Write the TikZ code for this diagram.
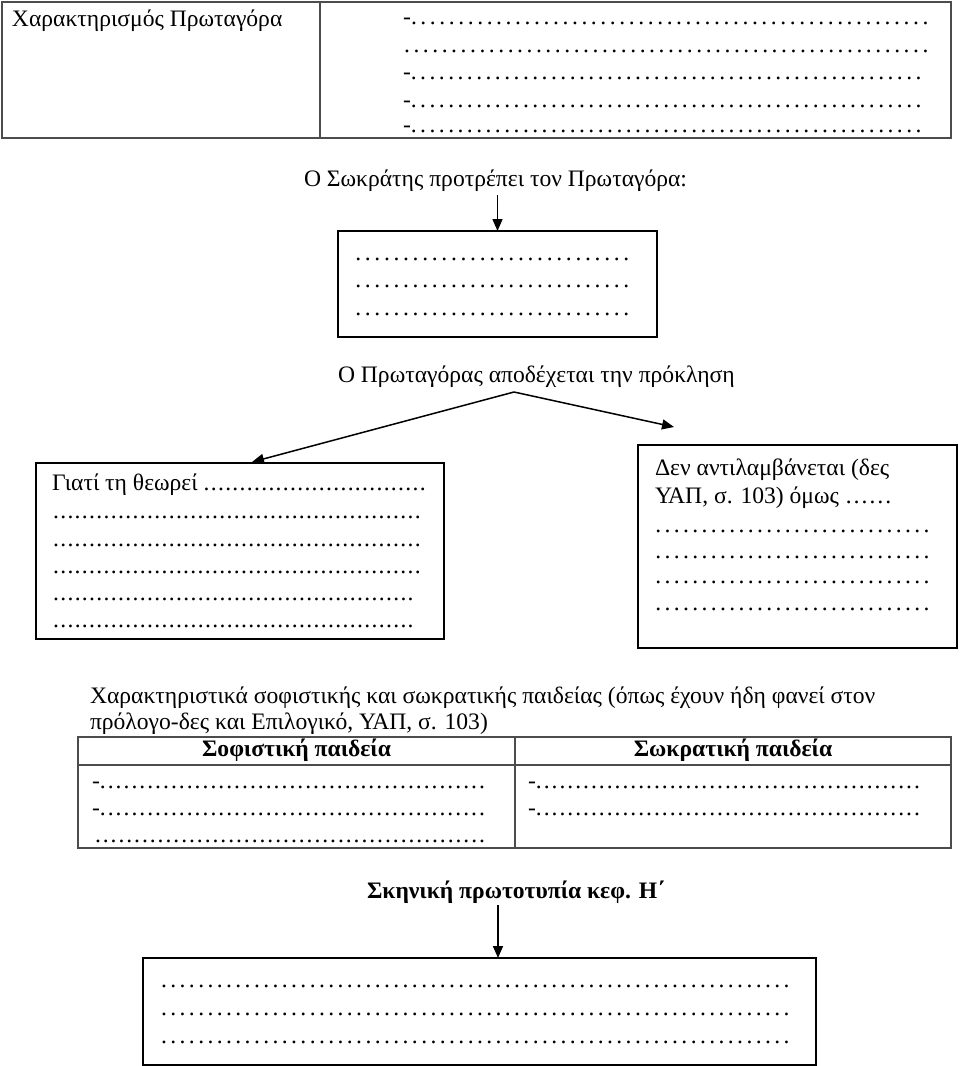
\documentclass[tikz,border=0pt]{standalone}
\usepackage{fontspec}
\setmainfont{Liberation Serif}
\usetikzlibrary{arrows.meta}
\newcommand\dotline[3]{\hbox to #1{#3\xleaders\hbox to #2{.\hss}\hfill}}
\tikzset{
  txt/.style={anchor=base west, inner sep=0pt, outer sep=0pt, font=\fontsize{23.6}{28}\selectfont},
  hdr/.style={anchor=base, inner sep=0pt, outer sep=0pt, font=\fontsize{23.6}{28}\selectfont\bfseries},
  hdrw/.style={anchor=base west, inner sep=0pt, outer sep=0pt, font=\fontsize{23.6}{28}\selectfont\bfseries},
  boxk/.style={draw=black, line width=1.8pt, inner sep=0pt, outer sep=0pt, anchor=north west},
  tab/.style={draw=black!70, line width=1.3pt},
  tabbox/.style={tab, inner sep=0pt, outer sep=0pt, anchor=north west},
  arr/.style={line width=1.5pt, -{Triangle[length=12pt,width=10pt]}},
}
\begin{document}
\begin{tikzpicture}[x=1pt,y=-1pt]
\useasboundingbox (0,0) rectangle (960,1066);

% top table
\node[tabbox, minimum width=949pt, minimum height=136pt] (ttab) at (2,2) {};
\coordinate (d1) at (320,2);
\draw[tab] (d1) -- (d1 |- ttab.south);
\node[txt] (t1) at (12,26) {Χαρακτηρισμός Πρωταγόρα};
\node[txt] (r1) at (403,24) {\dotline{529pt}{9.33pt}{-}};
\node[txt] (r2) at (404,52) {\dotline{528pt}{9.33pt}{}};
\node[txt] (r3) at (403,79) {\dotline{522pt}{9.33pt}{-}};
\node[txt] (r4) at (403,107) {\dotline{522pt}{9.33pt}{-}};
\node[txt] (r5) at (403,132) {\dotline{522pt}{9.33pt}{-}};

% Socrates
\node[txt] (soc) at (304,186) {Ο Σωκράτης προτρέπει τον Πρωταγόρα:};
\node[boxk, minimum width=319pt, minimum height=106pt] (mbox) at (338,231) {};
\coordinate (a1) at (497.5,195);
\draw[arr] (a1) -- (mbox.north);
\node[txt] (m1) at (355,260) {\dotline{278pt}{9.3pt}{}};
\node[txt] (m2) at (355,287) {\dotline{278pt}{9.3pt}{}};
\node[txt] (m3) at (355,315) {\dotline{278pt}{9.3pt}{}};

% Protagoras
\node[txt] (prot) at (338,382) {Ο Πρωταγόρας αποδέχεται την πρόκληση};
\coordinate (apex) at (514,392);
\coordinate (lt) at (252,462);
\coordinate (rt) at (674,427);
\draw[arr] (apex) -- (lt);
\draw[arr] (apex) -- (rt);

% left box
\node[boxk, minimum width=408pt, minimum height=176pt] (lbox) at (36,463) {};
\node[txt] (l0) at (52,490) {\dotline{375pt}{7.2pt}{Γιατί τη θεωρεί }};
\node[txt] (l1) at (53,518) {\dotline{369pt}{7.2pt}{}};
\node[txt] (l2) at (53,546) {\dotline{369pt}{7.2pt}{}};
\node[txt] (l3) at (53,573) {\dotline{369pt}{7.2pt}{}};
\node[txt] (l4) at (53,600) {\dotline{362pt}{7.2pt}{}};
\node[txt] (l5) at (53,627) {\dotline{362pt}{7.2pt}{}};

% right box
\node[boxk, minimum width=319pt, minimum height=203pt] (rbox) at (638,445) {};
\node[txt] (q0) at (655,475) {Δεν αντιλαμβάνεται (δες};
\node[txt] (q1) at (655,503) {ΥΑΠ, σ. 103) όμως ……};
\node[txt] (q2) at (655,532) {\dotline{278pt}{9pt}{}};
\node[txt] (q3) at (655,558) {\dotline{278pt}{9pt}{}};
\node[txt] (q4) at (655,583) {\dotline{278pt}{9pt}{}};
\node[txt] (q5) at (655,610) {\dotline{278pt}{9pt}{}};

% characteristics
\node[txt] (c1) at (90,703) {Χαρακτηριστικά σοφιστικής και σωκρατικής παιδείας (όπως έχουν ήδη φανεί στον};
\node[txt] (c2) at (90,729) {πρόλογο-δες και Επιλογικό, ΥΑΠ, σ. 103)};

\node[tabbox, minimum width=873pt, minimum height=111pt] (stab) at (78,737) {};
\coordinate (h1) at (78,765);
\draw[tab] (h1) -- (h1 -| stab.east);
\coordinate (d2) at (515,737);
\draw[tab] (d2) -- (d2 |- stab.south);
\node[hdr] (hs) at (296.5,756) {Σοφιστική παιδεία};
\node[hdr] (hk) at (733,756) {Σωκρατική παιδεία};
\node[txt] (s1) at (92,788) {\dotline{395pt}{7.8pt}{-}};
\node[txt] (s2) at (92,815) {\dotline{395pt}{7.8pt}{-}};
\node[txt] (s3) at (95,842) {\dotline{392pt}{7.8pt}{}};
\node[txt] (k1) at (528,788) {\dotline{394pt}{7.8pt}{-}};
\node[txt] (k2) at (528,815) {\dotline{394pt}{7.8pt}{-}};

% scenic originality
\node[hdrw] (sk) at (367,898) {Σκηνική πρωτοτυπία κεφ. Η΄};
\node[boxk, minimum width=673pt, minimum height=107pt] (bbox) at (143,958) {};
\coordinate (a3) at (498,905);
\draw[arr] (a3) -- (a3 |- bbox.north);
\node[txt] (b1) at (161,987) {\dotline{632pt}{9.2pt}{}};
\node[txt] (b2) at (161,1015) {\dotline{632pt}{9.2pt}{}};
\node[txt] (b3) at (161,1043) {\dotline{632pt}{9.2pt}{}};
\end{tikzpicture}
\end{document}
